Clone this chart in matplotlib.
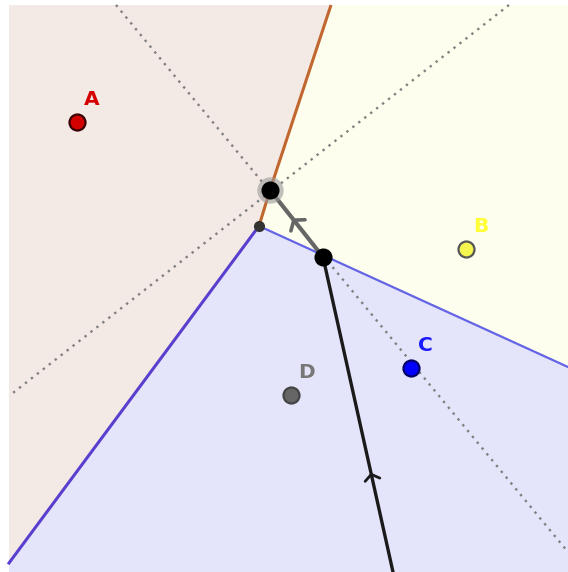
import matplotlib.pyplot as plt
import numpy as np
from matplotlib.patches import Polygon

# canvas frame (pixel-like coordinates, y grows downward)
frame_x = [9, 568]
frame_y = [5, 572]

# sites
site_names = ['A', 'B', 'C', 'D']
site_x = [77, 466, 411, 291]
site_y = [122, 249, 368, 395]
site_fill = ['#d40000', '#f5f550', '#0000ff', '#666666']
site_edge = ['#3a0000', '#555555', '#000066', '#444444']
label_color = ['#d40000', '#ffff33', '#1a1aff', '#777777']

# voronoi vertices and where the edges leave the frame
v_top = (270, 190)
v_low = (259, 226)
exit_top = (331, 5)
exit_left = (9, 563)
exit_right = (568, 367)

# dotted bisectors (endpoints on the frame)
dot1 = [(116, 5), (568, 552)]
dot2 = [(509, 5), (9, 396)]

# the path: black ray up to the turning point, then grey segment to the vertex
turn = (323, 257)
ray_start = (393, 572)

fig = plt.figure(figsize=[5.68, 5.72], dpi=100)
ax = fig.add_axes([0, 0, 1, 1])
ax.set_xlim(0, 568)
ax.set_ylim(572, 0)
ax.axis('off')

x0, x1 = frame_x
y0, y1 = frame_y
ax.add_patch(Polygon([(x0, y0), exit_top, v_top, v_low, exit_left], closed=True, fc='#f3e9e5', ec='none'))
ax.add_patch(Polygon([exit_top, (x1, y0), exit_right, v_low, v_top], closed=True, fc='#fefeee', ec='none'))
ax.add_patch(Polygon([exit_left, v_low, exit_right, (x1, y1), (x0, y1)], closed=True, fc='#e4e4fa', ec='none'))

for seg in (dot1, dot2):
    xs, ys = zip(*seg)
    ax.plot(xs, ys, ls=(0, (1, 2.2)), color='#808080', lw=1.7)

ax.plot(*zip(exit_top, v_top, v_low), color='#c0662e', lw=2.2, solid_capstyle='butt')
ax.plot(*zip(v_low, exit_left), color='#5a3fcf', lw=2.2)
ax.plot(*zip(v_low, exit_right), color='#6464e6', lw=1.6)


def chevron(p, q, frac, color, size=10, lw=2):
    # open arrow head on segment p->q pointing toward q
    p, q = np.array(p, float), np.array(q, float)
    d = (q - p) / np.linalg.norm(q - p)
    tip = p + frac * (q - p)
    n = np.array([-d[1], d[0]])
    for s in (1, -1):
        back = tip - d * size * 0.55 + s * n * size * 0.75
        ax.plot([back[0], tip[0]], [back[1], tip[1]], color=color, lw=lw, solid_capstyle='round')


ax.plot(*zip(ray_start, turn), color='#1a1a1a', lw=2.4)
chevron(ray_start, turn, 0.31, '#1a1a1a')
ax.plot(*zip(turn, v_top), color='#666666', lw=3)
chevron(turn, v_top, 0.55, '#666666', size=12, lw=2.6)

ax.plot(*v_top, 'o', ms=19, color='#999999', alpha=0.6, mec='none')
ax.plot(*v_top, 'o', ms=12, color='black')
ax.plot(*turn, 'o', ms=12, color='black')
ax.plot(*v_low, 'o', ms=7, color='#333333')

for name, x, y, fc, ec, lc in zip(site_names, site_x, site_y, site_fill, site_edge, label_color):
    ax.plot(x, y, 'o', ms=11.5, mfc=fc, mec=ec, mew=1.6)
    ax.text(x + 7, y - 13, name, color=lc, fontsize=14.5, fontweight='bold',
            ha='left', va='bottom', family='DejaVu Sans')

fig.savefig('out.png', dpi=100)
